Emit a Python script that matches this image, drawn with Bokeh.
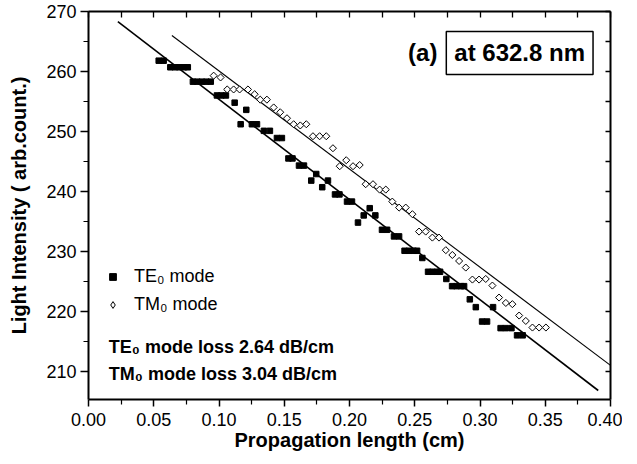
import numpy as np
from bokeh.plotting import figure
from bokeh.models import (LinearAxis, Range1d, Label, Legend, LegendItem,
                          FixedTicker, PrintfTickFormatter, CustomJSTickFormatter)
from bokeh.embed import file_html
from bokeh.resources import INLINE

# ---------------- data ----------------
te_x = [0.0538, 0.0576,
        0.0627, 0.0662, 0.0696, 0.0731, 0.0761,
        0.0800, 0.0834, 0.0869, 0.0903, 0.0937,
        0.0984, 0.1018, 0.1053,
        0.1120, 0.1166, 0.1209,
        0.1252, 0.1291,
        0.1344, 0.1390,
        0.1444, 0.1482,
        0.1532, 0.1563,
        0.1613, 0.1651,
        0.1707, 0.1745, 0.1791, 0.1835,
        0.1889, 0.1923,
        0.1981, 0.2019,
        0.2065, 0.2109, 0.2155, 0.2198,
        0.2249, 0.2288,
        0.2341, 0.2380,
        0.2422, 0.2456, 0.2491, 0.2518,
        0.2558,
        0.2602, 0.2636, 0.2671, 0.2694,
        0.2742,
        0.2786, 0.2820, 0.2855, 0.2878,
        0.2922, 0.2968,
        0.3016, 0.3054,
        0.3100,
        0.3158, 0.3196, 0.3241,
        0.3284, 0.3327]
te_y = [261.8, 261.8,
        260.7, 260.7, 260.7, 260.7, 260.7,
        258.3, 258.3, 258.3, 258.3, 258.3,
        256.0, 256.0, 256.0,
        254.8, 251.2, 253.6,
        251.2, 251.2,
        250.1, 250.1,
        248.9, 248.9,
        245.5, 245.5,
        244.3, 244.3,
        241.8, 242.9, 240.7, 241.8,
        239.5, 239.5,
        238.3, 238.3,
        234.8, 236.0, 237.2, 236.0,
        233.6, 233.6,
        232.5, 232.5,
        230.1, 230.1, 230.1, 230.1,
        228.9,
        226.6, 226.6, 226.6, 226.6,
        225.4,
        224.2, 224.2, 224.2, 224.2,
        222.0, 220.7,
        218.3, 218.3,
        220.7,
        217.2, 217.2, 217.2,
        216.0, 216.0]

tm_x = [0.0959, 0.1012, 0.1063, 0.1112, 0.1158, 0.1222, 0.1273, 0.1316,
        0.1367, 0.1419, 0.1469, 0.1521, 0.1572, 0.1623, 0.1669, 0.1720,
        0.1771, 0.1822, 0.1873, 0.1925, 0.1975, 0.2027, 0.2078, 0.2124,
        0.2180, 0.2231, 0.2278, 0.2328, 0.2380, 0.2431, 0.2482, 0.2533,
        0.2584, 0.2635, 0.2686, 0.2738, 0.2788, 0.2840, 0.2891, 0.2942,
        0.2993, 0.3044, 0.3095, 0.3146, 0.3198, 0.3248, 0.3300, 0.3351,
        0.3402, 0.3453, 0.3505]
tm_y = [259.3, 259.0, 257.0, 257.0, 257.0, 257.0, 256.2, 255.3,
        255.3, 254.0, 253.2, 252.2, 251.2, 251.0, 251.2, 249.2,
        249.2, 249.2, 247.2, 244.2, 245.2, 244.2, 244.4, 241.2,
        241.2, 240.3, 240.3, 238.3, 237.3, 237.3, 236.2, 233.3,
        233.3, 232.3, 232.3, 230.2, 229.4, 228.4, 227.3, 225.3,
        225.3, 225.4, 224.3, 222.3, 221.4, 221.2, 219.3, 218.4,
        217.3, 217.3, 217.3]

te_fit_x = [0.0225, 0.3906]
te_fit_y = [268.3, 206.8]
tm_fit_x = [0.0639, 0.4000]
tm_fit_y = [266.0, 211.0]

x_ticks = [0.00, 0.05, 0.10, 0.15, 0.20, 0.25, 0.30, 0.35, 0.40]
x_minor = [0.025, 0.075, 0.125, 0.175, 0.225, 0.275, 0.325, 0.375]
y_ticks = [210, 220, 230, 240, 250, 260, 270]
y_minor = [205, 215, 225, 235, 245, 255, 265]

FONT = "Liberation Sans"

p = figure(frame_width=522, frame_height=388,
           x_range=Range1d(0.0, 0.40), y_range=Range1d(205.3, 270.0),
           output_backend="svg", toolbar_location=None,
           min_border_left=88, min_border_right=12,
           min_border_top=11, min_border_bottom=40,
           x_axis_label="Propagation length (cm)",
           y_axis_label="Light Intensity ( arb.count.)")
p.grid.visible = False
p.outline_line_color = None
p.background_fill_color = "white"
p.border_fill_color = "white"

for ax in (p.xaxis[0], p.yaxis[0]):
    ax.axis_line_width = 2
    ax.axis_line_color = "black"
    ax.major_tick_line_width = 1.5
    ax.minor_tick_line_width = 1.2
    ax.major_tick_in = 0
    ax.minor_tick_in = 0
    ax.major_label_text_font = FONT
    ax.major_label_text_font_size = "18px"
    ax.major_label_text_color = "black"
    ax.axis_label_text_font = FONT
    ax.axis_label_text_font_style = "bold"
    ax.axis_label_text_font_size = "20px"
    ax.axis_label_text_color = "black"

p.xaxis[0].ticker = FixedTicker(ticks=x_ticks, minor_ticks=x_minor)
p.xaxis[0].formatter = PrintfTickFormatter(format="%.2f")
p.xaxis[0].major_tick_out = 7
p.xaxis[0].minor_tick_out = 5
p.xaxis[0].major_label_standoff = 6
p.xaxis[0].axis_label_standoff = 0

p.yaxis[0].ticker = FixedTicker(ticks=y_ticks, minor_ticks=y_minor)
p.yaxis[0].major_tick_out = 8
p.yaxis[0].minor_tick_out = 5
p.yaxis[0].major_label_standoff = 4
p.yaxis[0].axis_label_standoff = 13

blank = CustomJSTickFormatter(code="return ''")
top = LinearAxis(ticker=FixedTicker(ticks=x_ticks + x_minor, minor_ticks=[]),
                 formatter=blank, major_label_standoff=0, major_tick_in=6,
                 major_tick_out=0, axis_line_width=2, major_tick_line_width=1.3)
right = LinearAxis(ticker=FixedTicker(ticks=y_ticks + y_minor, minor_ticks=[]),
                   formatter=blank, major_label_standoff=0, major_tick_in=5,
                   major_tick_out=0, axis_line_width=2, major_tick_line_width=1.3)
p.add_layout(top, "above")
p.add_layout(right, "right")

# fit lines
p.line(te_fit_x, te_fit_y, line_color="black", line_width=1.6)
p.line(tm_fit_x, tm_fit_y, line_color="black", line_width=1.1)

# data
r_te = p.scatter(te_x, te_y, marker="square", size=5.5,
                 fill_color="black", line_color="black")
r_tm = p.scatter(tm_x, tm_y, marker="square", angle=np.pi / 4, size=5,
                 fill_color="white", line_color="black", line_width=1)
# legend swatch for the open diamonds (a single undefined point, never drawn)
r_tm_key = p.scatter(x=[np.nan], y=[np.nan], marker="diamond", size=9,
                     fill_color="white", line_color="black", line_width=1)

legend = Legend(items=[LegendItem(label="TE₀ mode", renderers=[r_te]),
                       LegendItem(label="TM₀ mode", renderers=[r_tm_key])],
                location=(16, 82), orientation="vertical",
                background_fill_alpha=0, border_line_color=None,
                padding=5, margin=0, spacing=3,
                glyph_width=17, glyph_height=17, label_height=25,
                label_standoff=13,
                label_text_font=FONT, label_text_font_size="18px",
                label_text_color="black")
p.add_layout(legend, "center")

common = dict(text_font=FONT, text_font_style="bold", text_color="black",
              text_baseline="middle")
p.add_layout(Label(x=0.0156, y=214.0, text="TE₀ mode loss 2.64 dB/cm",
                   text_font_size="18px", **common))
p.add_layout(Label(x=0.0156, y=209.5, text="TM₀ mode loss 3.04 dB/cm",
                   text_font_size="18px", **common))
p.add_layout(Label(x=0.2449, y=263.1, text="(a)", text_font_size="24px",
                   **common))
p.add_layout(Label(x=0.3304, y=263.1, text="at 632.8 nm", text_align="center",
                   text_font_size="24px", border_line_color="black",
                   border_line_width=1.5, background_fill_color="white",
                   padding=8, **common))

open("out.html", "w").write(file_html(p, INLINE))
